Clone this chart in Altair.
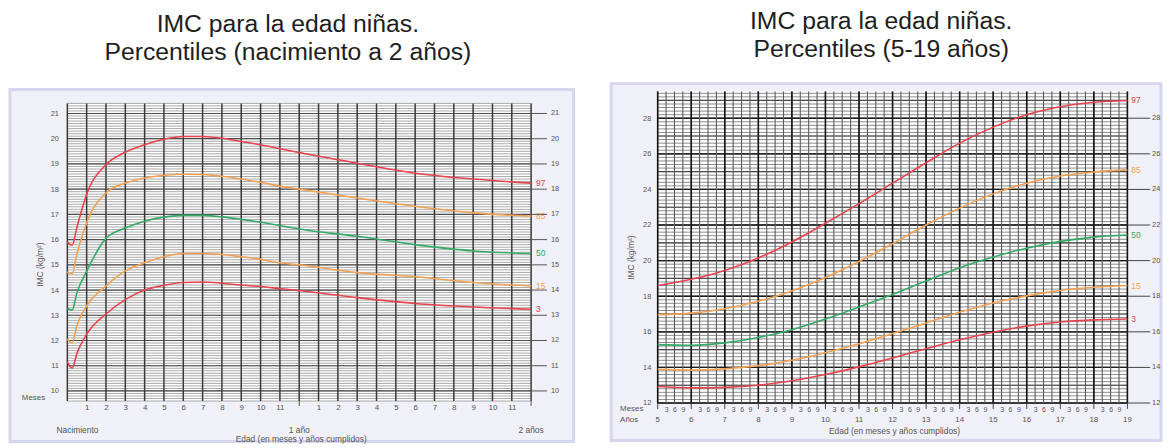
import altair as alt
import pandas as pd
import numpy as np

FONT = "Liberation Sans"
RED = "#e8434e"
ORANGE = "#f2a154"
GREEN = "#33aa66"
LBL = "#555555"

percentiles = ["97", "85", "50", "15", "3"]
pct_colors = [RED, ORANGE, GREEN, ORANGE, RED]

# ---------- Panel 1: birth to 2 years (x in months)
months = [0, 0.25, 0.5, 1, 2, 3, 4, 5, 6, 7, 8, 9, 10, 11, 12, 15, 18, 21, 24]
inf_p97 = [15.9, 15.78, 16.5, 17.8, 18.97, 19.46, 19.76, 19.98, 20.09, 20.09, 20.02, 19.89, 19.76, 19.6, 19.45, 19.03, 18.63, 18.4, 18.24]
inf_p85 = [14.72, 14.65, 15.45, 16.67, 17.85, 18.24, 18.44, 18.55, 18.59, 18.58, 18.51, 18.4, 18.27, 18.12, 18.0, 17.65, 17.32, 17.06, 16.93]
inf_p50 = [13.27, 13.21, 13.9, 14.75, 16.05, 16.46, 16.73, 16.89, 16.96, 16.96, 16.9, 16.8, 16.69, 16.56, 16.42, 16.13, 15.8, 15.55, 15.45]
inf_p15 = [12.06, 11.9, 12.6, 13.37, 14.16, 14.76, 15.08, 15.32, 15.45, 15.45, 15.41, 15.32, 15.22, 15.08, 15.0, 14.69, 14.53, 14.3, 14.16]
inf_p3 = [11.15, 10.9, 11.5, 12.25, 13.05, 13.62, 14.0, 14.19, 14.3, 14.32, 14.27, 14.2, 14.14, 14.06, 13.98, 13.7, 13.47, 13.33, 13.24]

inf_y_ticks = list(range(10, 22))
inf_month_ticks = [1, 2, 3, 4, 5, 6, 7, 8, 9, 10, 11, 13, 14, 15, 16, 17, 18, 19, 20, 21, 22, 23]
inf_year_labels = ["1 año", "2 años"]
inf_year_months = [12, 24]
inf_grid_months = list(range(0, 25))

# ---------- Panel 2: 5 to 19 years (x in years)
years = [5, 6, 7, 8, 9, 10, 11, 12, 13, 14, 15, 16, 17, 18, 19]
ch_p97 = [18.6, 18.95, 19.45, 20.15, 21.05, 22.1, 23.2, 24.35, 25.5, 26.6, 27.5, 28.2, 28.65, 28.9, 29.0]
ch_p85 = [16.96, 17.05, 17.3, 17.72, 18.3, 19.05, 19.95, 20.95, 22.0, 22.95, 23.75, 24.35, 24.75, 24.98, 25.1]
ch_p50 = [15.28, 15.24, 15.38, 15.68, 16.12, 16.72, 17.4, 18.1, 18.85, 19.6, 20.2, 20.7, 21.08, 21.32, 21.44]
ch_p15 = [13.89, 13.85, 13.92, 14.1, 14.4, 14.83, 15.33, 15.9, 16.5, 17.1, 17.62, 18.02, 18.32, 18.5, 18.6]
ch_p3 = [12.93, 12.85, 12.88, 13.0, 13.25, 13.6, 14.03, 14.53, 15.05, 15.55, 15.98, 16.32, 16.55, 16.67, 16.72]

ch_y_ticks = [12, 14, 16, 18, 20, 22, 24, 26, 28]
ch_year_labels = [str(y) for y in years]
ch_quarter_labels = ["3", "6", "9"]


def long_df(xs, series):
    rows = []
    for p, vals in zip(percentiles, series):
        for x, v in zip(xs, vals):
            rows.append({"x": x, "v": v, "p": p})
    return pd.DataFrame(rows)


one = pd.DataFrame({"a": [0]})
color_enc = alt.Color("p:N", scale=alt.Scale(domain=percentiles, range=pct_colors), legend=None)


def txt(text, x, y, size=8.5, color=LBL, align="center", angle=0, baseline="middle"):
    kw = dict(text=text, fontSize=size, color=color, align=align, baseline=baseline, font=FONT)
    if angle:
        kw["angle"] = angle
    return alt.Chart(one).mark_text(**kw).encode(x=alt.value(x), y=alt.value(y))


# ======================= Panel 1 =======================
# group origin shared with panel 2 (page y 90); the grid itself starts OFF px lower
W1, H1, OFF = 469, 313, 12
xs1 = alt.Scale(domain=[0, 24], nice=False, zero=False)
ys1 = alt.Scale(domain=[9.6, 21.4 + OFF * 11.8 / (H1 - OFF)], nice=False, zero=False)

ax_x1 = alt.Axis(values=inf_month_ticks,
                 labelExpr="datum.value > 12 ? '' + (datum.value - 12) : datum.label",
                 title=None, domain=False, ticks=False, grid=False, labelPadding=3, zindex=2,
                 labelFontSize=8, labelColor=LBL, labelFont=FONT)
ax_y1 = alt.Axis(values=inf_y_ticks, title=None, domain=False, ticks=False, grid=False, zindex=2,
                 labelPadding=9, labelFontSize=7.5, labelColor=LBL, labelFont=FONT)

df1 = long_df(months, [inf_p97, inf_p85, inf_p50, inf_p15, inf_p3])
lab1 = pd.DataFrame({"p": percentiles, "x": [24] * 5,
                     "v": [s[-1] for s in [inf_p97, inf_p85, inf_p50, inf_p15, inf_p3]]})

box1 = alt.Chart(one).mark_rect(fill="#f0f0f8", stroke="#d6d7ee", strokeWidth=3).encode(
    x=alt.value(-58), x2=alt.value(512), y=alt.value(-2), y2=alt.value(354))
bg1 = alt.Chart(one).mark_rect(fill="white").encode(x=alt.value(0), x2=alt.value(W1), y=alt.value(OFF), y2=alt.value(H1))

minor1 = pd.DataFrame({"v": np.round(np.arange(96, 215) / 10.0, 1)})
gh1 = alt.Chart(minor1).mark_rule(color="#a9a9a9", strokeWidth=1).encode(y=alt.Y("v:Q", scale=ys1, axis=ax_y1))
gmaj1 = alt.Chart(pd.DataFrame({"v": inf_y_ticks})).mark_rule(color="#4f4f4f", strokeWidth=1.2).encode(
    y=alt.Y("v:Q", scale=ys1, axis=ax_y1))
gv1 = alt.Chart(pd.DataFrame({"x": inf_grid_months})).mark_rule(color="#383838", strokeWidth=1.5).encode(
    x=alt.X("x:Q", scale=xs1, axis=ax_x1), y=alt.value(OFF), y2=alt.value(H1))

curves1 = alt.Chart(df1).mark_line(interpolate="monotone", strokeWidth=1.6).encode(
    x=alt.X("x:Q", scale=xs1, axis=ax_x1),
    y=alt.Y("v:Q", scale=ys1, axis=ax_y1),
    color=color_enc, detail="p:N")

plab1 = alt.Chart(lab1).mark_text(align="left", dx=5, fontSize=8.5, font=FONT).encode(
    x=alt.X("x:Q", scale=xs1, axis=ax_x1), y=alt.Y("v:Q", scale=ys1, axis=ax_y1), text="p:N", color=color_enc)

rt1 = pd.DataFrame({"t": inf_y_ticks})
rtick1 = alt.Chart(rt1).mark_rule(color="#555555").encode(
    y=alt.Y("t:Q", scale=ys1, axis=ax_y1), x=alt.value(W1), x2=alt.value(W1 + 16))
rlab1 = alt.Chart(rt1).mark_text(align="left", fontSize=7.5, color=LBL, font=FONT).encode(
    y=alt.Y("t:Q", scale=ys1, axis=ax_y1), x=alt.value(W1 + 20), text="t:Q")

xt1 = alt.Chart(pd.DataFrame({"x": inf_year_months})).mark_rule(color="#555555").encode(
    x=alt.X("x:Q", scale=xs1, axis=ax_x1), y=alt.value(H1), y2=alt.value(H1 + 5))
ylab1 = alt.Chart(pd.DataFrame({"x": inf_year_months, "t": inf_year_labels})).mark_text(
    fontSize=8.5, color=LBL, font=FONT).encode(x=alt.X("x:Q", scale=xs1, axis=ax_x1),
                                               y=alt.value(H1 + 29), text="t:N")

left = alt.layer(
    box1, bg1, gh1, gmaj1, gv1, curves1, plab1, rtick1, rlab1, xt1, ylab1,
    txt("Nacimiento", -11, H1 + 29, align="left"),
    txt("Meses", -46, H1 - 3, size=8, align="left"),
    txt("Edad (en meses y años cumplidos)", W1 / 2 + 2, H1 + 38),
    txt("IMC (kg/m²)", -28, 175, angle=270),
    txt("IMC para la edad niñas.", 223, -68, size=25, color="#1e1e1e"),
    txt("Percentiles (nacimiento a 2 años)", 223, -40, size=25, color="#1e1e1e"),
).properties(width=W1, height=H1)

# ======================= Panel 2 =======================
W2, H2 = 475, 315
xs2 = alt.Scale(domain=[5, 19], nice=False, zero=False)
ys2 = alt.Scale(domain=[12, 29.5], nice=False, zero=False)

quarters = [y + q / 12.0 for y in years[:-1] for q in (3, 6, 9)]
all_quarters = [y + q / 12.0 for y in years[:-1] for q in (0, 3, 6, 9)] + [19]

ax_x2 = alt.Axis(values=quarters,
                 labelExpr="'' + round((datum.value - floor(datum.value)) * 12)",
                 title=None, domain=False, ticks=False, grid=False, labelPadding=3, zindex=2,
                 labelFontSize=7, labelColor=LBL, labelFont=FONT)
ax_y2 = alt.Axis(values=ch_y_ticks, title=None, domain=False, ticks=False, grid=False, zindex=2,
                 labelPadding=7, labelFontSize=7.5, labelColor=LBL, labelFont=FONT)

df2 = long_df(years, [ch_p97, ch_p85, ch_p50, ch_p15, ch_p3])
lab2 = pd.DataFrame({"p": percentiles, "x": [19] * 5,
                     "v": [s[-1] for s in [ch_p97, ch_p85, ch_p50, ch_p15, ch_p3]]})

box2 = alt.Chart(one).mark_rect(fill="#f0f0f8", stroke="#d6d7ee", strokeWidth=3).encode(
    x=alt.value(-47), x2=alt.value(W2 + 34), y=alt.value(-8), y2=alt.value(353))
bg2 = alt.Chart(one).mark_rect(fill="white").encode(x=alt.value(0), x2=alt.value(W2), y=alt.value(0), y2=alt.value(H2))

minor2 = pd.DataFrame({"v": np.round(np.arange(60, 148) * 0.2, 1)})
gh2 = alt.Chart(minor2).mark_rule(color="#8c8c8c", strokeWidth=1).encode(y=alt.Y("v:Q", scale=ys2, axis=ax_y2))
gmid2 = alt.Chart(pd.DataFrame({"v": list(range(12, 30))})).mark_rule(color="#4a4a4a", strokeWidth=1.2).encode(
    y=alt.Y("v:Q", scale=ys2, axis=ax_y2))
gmaj2 = alt.Chart(pd.DataFrame({"v": ch_y_ticks})).mark_rule(color="#1e1e1e", strokeWidth=1.4).encode(
    y=alt.Y("v:Q", scale=ys2, axis=ax_y2))
gvq2 = alt.Chart(pd.DataFrame({"x": all_quarters})).mark_rule(color="#5a5a5a", strokeWidth=1.1).encode(
    x=alt.X("x:Q", scale=xs2, axis=ax_x2))
gvy2 = alt.Chart(pd.DataFrame({"x": years})).mark_rule(color="#141414", strokeWidth=1.6).encode(
    x=alt.X("x:Q", scale=xs2, axis=ax_x2))

curves2 = alt.Chart(df2).mark_line(interpolate="monotone", strokeWidth=1.6).encode(
    x=alt.X("x:Q", scale=xs2, axis=ax_x2),
    y=alt.Y("v:Q", scale=ys2, axis=ax_y2),
    color=color_enc, detail="p:N")

plab2 = alt.Chart(lab2).mark_text(align="left", dx=4, fontSize=8.5, font=FONT).encode(
    x=alt.X("x:Q", scale=xs2, axis=ax_x2), y=alt.Y("v:Q", scale=ys2, axis=ax_y2), text="p:N", color=color_enc)

rt2 = pd.DataFrame({"t": ch_y_ticks})
rtick2 = alt.Chart(rt2).mark_rule(color="#444444").encode(
    y=alt.Y("t:Q", scale=ys2, axis=ax_y2), x=alt.value(W2), x2=alt.value(W2 + 23))
rlab2 = alt.Chart(rt2).mark_text(align="left", fontSize=7.5, color=LBL, font=FONT).encode(
    y=alt.Y("t:Q", scale=ys2, axis=ax_y2), x=alt.value(W2 + 25), text="t:Q")

xt2 = alt.Chart(pd.DataFrame({"x": years})).mark_rule(color="#444444").encode(
    x=alt.X("x:Q", scale=xs2, axis=ax_x2), y=alt.value(H2), y2=alt.value(H2 + 6))
ylab2 = alt.Chart(pd.DataFrame({"x": years, "t": ch_year_labels})).mark_text(
    fontSize=8, color=LBL, font=FONT).encode(x=alt.X("x:Q", scale=xs2, axis=ax_x2),
                                             y=alt.value(H2 + 17), text="t:N")

right = alt.layer(
    box2, bg2, gh2, gmid2, gmaj2, gvq2, gvy2, curves2, plab2, rtick2, rlab2, xt2, ylab2,
    txt("Meses", -38, H2 + 6, size=8, align="left"),
    txt("Años", -38, H2 + 17, size=8, align="left"),
    txt("Edad (en meses y años cumplidos)", W2 / 2 + 2, H2 + 28),
    txt("IMC (kg/m²)", -27, 168, angle=270),
    txt("IMC para la edad niñas.", 226, -71, size=25, color="#1e1e1e"),
    txt("Percentiles (5-19 años)", 226, -43, size=25, color="#1e1e1e"),
).properties(width=W2, height=H2)

chart = alt.hconcat(left, right, spacing=34).properties(
    padding={"left": 0, "right": 0, "top": -2, "bottom": 0}, background="white"
).configure_view(strokeWidth=0).configure(font=FONT)

chart.save("out.html", embed_options={"renderer": "svg", "actions": False})
